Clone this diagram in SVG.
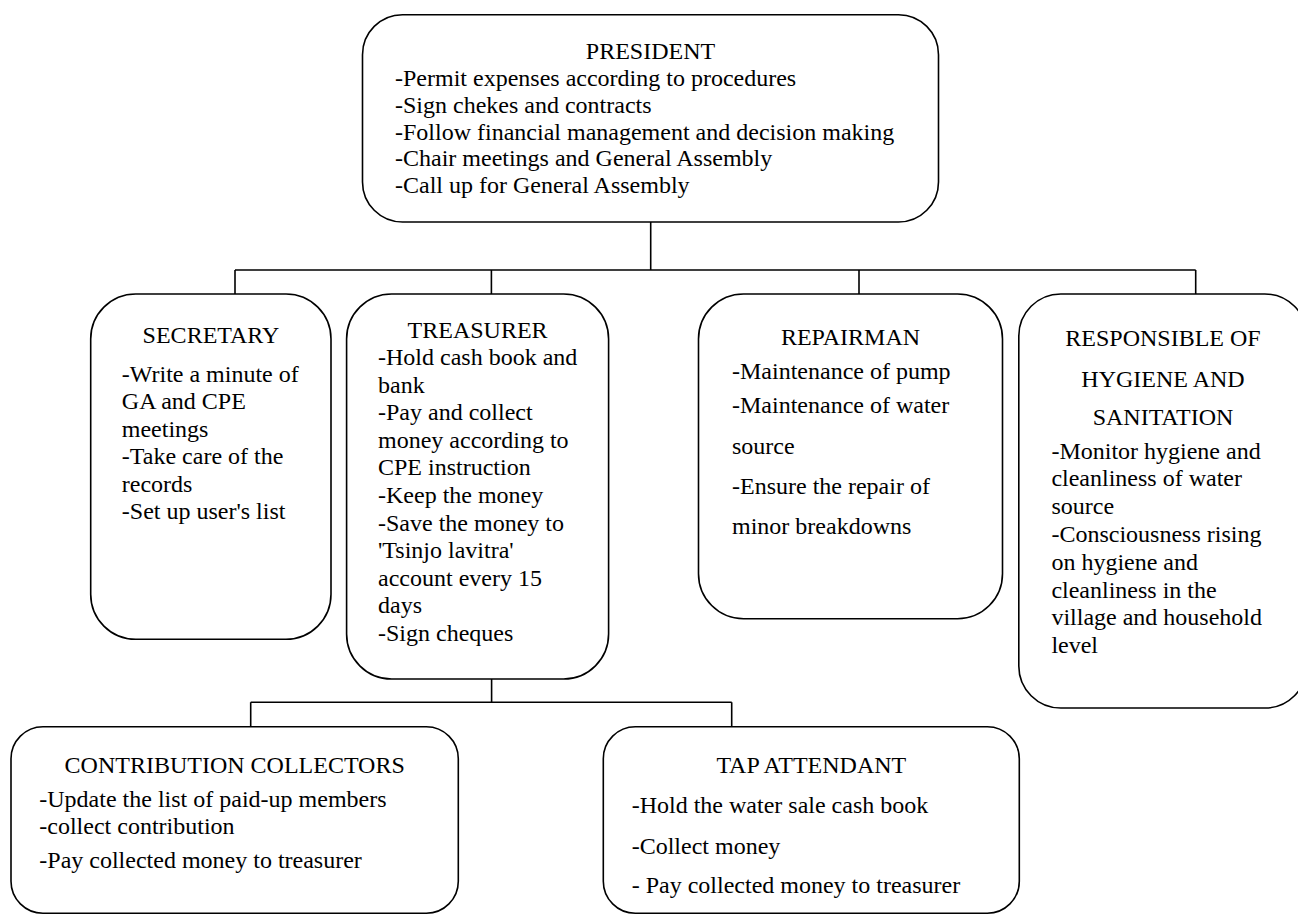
<svg xmlns="http://www.w3.org/2000/svg" width="1298" height="915" viewBox="0 0 1298 915">
<style>
.box{fill:#fff;stroke:#000;stroke-width:1.6}
.ln{fill:none;stroke:#000;stroke-width:1.6}
text{font-family:"Liberation Serif","Times New Roman",serif;font-size:24px;fill:#000}
.c{text-anchor:middle}
</style>
<rect width="1298" height="915" fill="#fff"/>
<g id="connectors">
<path class="ln" d="M650.7 222V270M235 270H1195.7M235 270V294M491.4 270V294M859 270V294M1195.7 270V294"/>
<path class="ln" d="M491.6 679V702.3M250.7 702.3H731.7M250.7 702.3V726.7M731.7 702.3V726.7"/>
</g>
<g id="president">
<rect class="box" x="362.5" y="14.7" width="576" height="207.3" rx="40"/>
<text class="c" x="650.5" y="59">PRESIDENT</text>
<text x="395" y="86">-Permit expenses according to procedures</text>
<text x="395" y="112.8">-Sign chekes and contracts</text>
<text x="395" y="139.6">-Follow financial management and decision making</text>
<text x="395" y="166.4">-Chair meetings and General Assembly</text>
<text x="395" y="193.2">-Call up for General Assembly</text>
</g>
<g id="secretary">
<rect class="box" x="90.7" y="294" width="240.3" height="345.3" rx="45"/>
<text class="c" x="211" y="342.7">SECRETARY</text>
<text x="121.8" y="381.7">-Write a minute of</text>
<text x="121.8" y="409.2">GA and CPE</text>
<text x="121.8" y="436.7">meetings</text>
<text x="121.8" y="464.2">-Take care of the</text>
<text x="121.8" y="491.7">records</text>
<text x="121.8" y="519.2">-Set up user's list</text>
</g>
<g id="treasurer">
<rect class="box" x="346.6" y="294" width="262" height="385" rx="45"/>
<text class="c" x="477.6" y="338">TREASURER</text>
<text x="378" y="365">-Hold cash book and</text>
<text x="378" y="392.6">bank</text>
<text x="378" y="420.2">-Pay and collect</text>
<text x="378" y="447.8">money according to</text>
<text x="378" y="475.4">CPE instruction</text>
<text x="378" y="503">-Keep the money</text>
<text x="378" y="530.6">-Save the money to</text>
<text x="378" y="558.2">'Tsinjo lavitra'</text>
<text x="378" y="585.8">account every 15</text>
<text x="378" y="613.4">days</text>
<text x="378" y="641">-Sign cheques</text>
</g>
<g id="repairman">
<rect class="box" x="698.5" y="294" width="304" height="324.7" rx="45"/>
<text class="c" x="850.5" y="345">REPAIRMAN</text>
<text x="732" y="379.3">-Maintenance of pump</text>
<text x="732" y="413.3">-Maintenance of water</text>
<text x="732" y="454">source</text>
<text x="732" y="494">-Ensure the repair of</text>
<text x="732" y="534">minor breakdowns</text>
</g>
<g id="hygiene">
<rect class="box" x="1018.8" y="294" width="288" height="414" rx="42"/>
<text class="c" x="1163" y="345.5">RESPONSIBLE OF</text>
<text class="c" x="1163" y="386.7">HYGIENE AND</text>
<text class="c" x="1163" y="425">SANITATION</text>
<text x="1051.4" y="458.5">-Monitor hygiene and</text>
<text x="1051.4" y="486.3">cleanliness of water</text>
<text x="1051.4" y="514.1">source</text>
<text x="1051.4" y="541.9">-Consciousness rising</text>
<text x="1051.4" y="569.7">on hygiene and</text>
<text x="1051.4" y="597.5">cleanliness in the</text>
<text x="1051.4" y="625.3">village and household</text>
<text x="1051.4" y="653.1">level</text>
</g>
<g id="collectors">
<rect class="box" x="11" y="726.7" width="447.3" height="186.5" rx="32"/>
<text class="c" x="234.7" y="773.3">CONTRIBUTION COLLECTORS</text>
<text x="39.3" y="806.7">-Update the list of paid-up members</text>
<text x="39.3" y="834.3">-collect contribution</text>
<text x="39.3" y="868.3">-Pay collected money to treasurer</text>
</g>
<g id="tap-attendant">
<rect class="box" x="603.3" y="726.7" width="416" height="186.5" rx="32"/>
<text class="c" x="811.3" y="773.3">TAP ATTENDANT</text>
<text x="631.7" y="813.3">-Hold the water sale cash book</text>
<text x="631.7" y="854.3">-Collect money</text>
<text x="631.7" y="892.7">- Pay collected money to treasurer</text>
</g>
</svg>
